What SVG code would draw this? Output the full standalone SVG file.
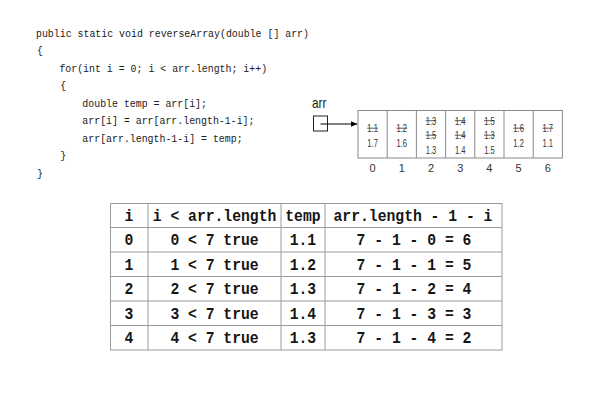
<svg xmlns="http://www.w3.org/2000/svg" width="601" height="401" viewBox="0 0 601 401">
  <style>
    .code { font-family: "Liberation Mono", "DejaVu Sans Mono", monospace; font-size: 11px; fill: #1a1a1a; }
    .cell { fill: none; stroke: #8a8a8a; stroke-width: 1; }
    .val { font-family: "Liberation Sans", Arial, sans-serif; font-size: 11px; fill: #333; text-anchor: middle; }
    .idx { font-family: "Liberation Sans", Arial, sans-serif; font-size: 11px; fill: #333; text-anchor: middle; }
    .strike { stroke: #333; stroke-width: 0.8; }
    .grid { stroke: #9a9a9a; stroke-width: 1; fill: none; }
    .tt { font-family: "Liberation Mono", "DejaVu Sans Mono", monospace; font-size: 16px; font-weight: bold; fill: #151515; text-anchor: middle; }
  </style>
  <defs>
    <marker id="head" markerWidth="7" markerHeight="6" refX="6.5" refY="3" orient="auto" markerUnits="userSpaceOnUse">
      <path d="M0,0 L7,3 L0,6 Z" fill="#000"/>
    </marker>
  </defs>
  <rect width="601" height="401" fill="#fff"/>

  <!-- method source -->
  <g id="code" transform="translate(36,0) scale(0.9,1)">
    <text class="code" x="0" y="37">public static void reverseArray(double [] arr)</text>
    <text class="code" x="1" y="54.5">{</text>
    <text class="code" x="26" y="72">for(int i = 0; i &lt; arr.length; i++)</text>
    <text class="code" x="27" y="89.5">{</text>
    <text class="code" x="51.5" y="107">double temp = arr[i];</text>
    <text class="code" x="51.5" y="124.5">arr[i] = arr[arr.length-1-i];</text>
    <text class="code" x="51.5" y="142">arr[arr.length-1-i] = temp;</text>
    <text class="code" x="27" y="159.5">}</text>
    <text class="code" x="1" y="177">}</text>
  </g>

  <!-- reference variable -->
  <g id="arr-ref">
    <text x="312" y="107.5" font-family="'Liberation Sans', Arial, sans-serif" font-size="15" fill="#222" textLength="14.5" lengthAdjust="spacingAndGlyphs">arr</text>
    <rect x="313.5" y="116" width="14" height="15" fill="none" stroke="#222" stroke-width="1"/>
  </g>

  <!-- connectors -->
  <g id="connectors">
    <line x1="320.5" y1="124" x2="357" y2="124" stroke="#000" stroke-width="1.2" marker-end="url(#head)"/>
  </g>

  <!-- array cells -->
  <g id="array">
    <rect class="cell" x="358" y="110.5" width="204.4" height="47.5"/>
    <line class="cell" x1="387.2" y1="110.5" x2="387.2" y2="158"/>
    <line class="cell" x1="416.4" y1="110.5" x2="416.4" y2="158"/>
    <line class="cell" x1="445.6" y1="110.5" x2="445.6" y2="158"/>
    <line class="cell" x1="474.8" y1="110.5" x2="474.8" y2="158"/>
    <line class="cell" x1="504" y1="110.5" x2="504" y2="158"/>
    <line class="cell" x1="533.2" y1="110.5" x2="533.2" y2="158"/>

    <!-- cell 0 -->
    <text class="val" x="372.6" y="132" textLength="10.5" lengthAdjust="spacingAndGlyphs">1.1</text>
    <line class="strike" x1="367.2" y1="128.2" x2="378" y2="128.2"/>
    <text class="val" x="372.6" y="147" textLength="10.5" lengthAdjust="spacingAndGlyphs">1.7</text>
    <!-- cell 1 -->
    <text class="val" x="401.8" y="132" textLength="10.5" lengthAdjust="spacingAndGlyphs">1.2</text>
    <line class="strike" x1="396.4" y1="128.2" x2="407.2" y2="128.2"/>
    <text class="val" x="401.8" y="147" textLength="10.5" lengthAdjust="spacingAndGlyphs">1.6</text>
    <!-- cell 2 -->
    <text class="val" x="431" y="124.5" textLength="10.5" lengthAdjust="spacingAndGlyphs">1.3</text>
    <line class="strike" x1="425.6" y1="120.7" x2="436.4" y2="120.7"/>
    <text class="val" x="431" y="139" textLength="10.5" lengthAdjust="spacingAndGlyphs">1.5</text>
    <line class="strike" x1="425.6" y1="135.2" x2="436.4" y2="135.2"/>
    <text class="val" x="431" y="154" textLength="10.5" lengthAdjust="spacingAndGlyphs">1.3</text>
    <!-- cell 3 -->
    <text class="val" x="460.2" y="124.5" textLength="10.5" lengthAdjust="spacingAndGlyphs">1.4</text>
    <line class="strike" x1="454.8" y1="120.7" x2="465.6" y2="120.7"/>
    <text class="val" x="460.2" y="139" textLength="10.5" lengthAdjust="spacingAndGlyphs">1.4</text>
    <line class="strike" x1="454.8" y1="135.2" x2="465.6" y2="135.2"/>
    <text class="val" x="460.2" y="154" textLength="10.5" lengthAdjust="spacingAndGlyphs">1.4</text>
    <!-- cell 4 -->
    <text class="val" x="489.4" y="124.5" textLength="10.5" lengthAdjust="spacingAndGlyphs">1.5</text>
    <line class="strike" x1="484" y1="120.7" x2="494.8" y2="120.7"/>
    <text class="val" x="489.4" y="139" textLength="10.5" lengthAdjust="spacingAndGlyphs">1.3</text>
    <line class="strike" x1="484" y1="135.2" x2="494.8" y2="135.2"/>
    <text class="val" x="489.4" y="154" textLength="10.5" lengthAdjust="spacingAndGlyphs">1.5</text>
    <!-- cell 5 -->
    <text class="val" x="518.6" y="132" textLength="10.5" lengthAdjust="spacingAndGlyphs">1.6</text>
    <line class="strike" x1="513.2" y1="128.2" x2="524" y2="128.2"/>
    <text class="val" x="518.6" y="147" textLength="10.5" lengthAdjust="spacingAndGlyphs">1.2</text>
    <!-- cell 6 -->
    <text class="val" x="547.8" y="132" textLength="10.5" lengthAdjust="spacingAndGlyphs">1.7</text>
    <line class="strike" x1="542.4" y1="128.2" x2="553.2" y2="128.2"/>
    <text class="val" x="547.8" y="147" textLength="10.5" lengthAdjust="spacingAndGlyphs">1.1</text>

    <!-- indices -->
    <text class="idx" x="372.6" y="171.5">0</text>
    <text class="idx" x="401.8" y="171.5">1</text>
    <text class="idx" x="431" y="171.5">2</text>
    <text class="idx" x="460.2" y="171.5">3</text>
    <text class="idx" x="489.4" y="171.5">4</text>
    <text class="idx" x="518.6" y="171.5">5</text>
    <text class="idx" x="547.8" y="171.5">6</text>
  </g>

  <!-- trace table -->
  <g id="trace-table">
    <rect class="grid" x="110.5" y="203.5" width="391.5" height="146.5"/>
    <line class="grid" x1="148" y1="203.5" x2="148" y2="350"/>
    <line class="grid" x1="281" y1="203.5" x2="281" y2="350"/>
    <line class="grid" x1="325" y1="203.5" x2="325" y2="350"/>
    <line class="grid" x1="110.5" y1="227.5" x2="502" y2="227.5"/>
    <line class="grid" x1="110.5" y1="252" x2="502" y2="252"/>
    <line class="grid" x1="110.5" y1="276.5" x2="502" y2="276.5"/>
    <line class="grid" x1="110.5" y1="301" x2="502" y2="301"/>
    <line class="grid" x1="110.5" y1="325.5" x2="502" y2="325.5"/>

    <!-- cell text, narrowed horizontally -->
    <g transform="scale(0.92,1)">
      <text class="tt" x="140.2" y="221.5">i</text>
      <text class="tt" x="233.2" y="221.5">i &lt; arr.length</text>
      <text class="tt" x="329.3" y="221.5">temp</text>
      <text class="tt" x="448.9" y="221.5">arr.length - 1 - i</text>

      <text class="tt" x="140.2" y="245.5">0</text>
      <text class="tt" x="233.2" y="245.5">0 &lt; 7 true</text>
      <text class="tt" x="329.3" y="245.5">1.1</text>
      <text class="tt" x="450" y="245.5">7 - 1 - 0 = 6</text>

      <text class="tt" x="140.2" y="270">1</text>
      <text class="tt" x="233.2" y="270">1 &lt; 7 true</text>
      <text class="tt" x="329.3" y="270">1.2</text>
      <text class="tt" x="450" y="270">7 - 1 - 1 = 5</text>

      <text class="tt" x="140.2" y="294.5">2</text>
      <text class="tt" x="233.2" y="294.5">2 &lt; 7 true</text>
      <text class="tt" x="329.3" y="294.5">1.3</text>
      <text class="tt" x="450" y="294.5">7 - 1 - 2 = 4</text>

      <text class="tt" x="140.2" y="319">3</text>
      <text class="tt" x="233.2" y="319">3 &lt; 7 true</text>
      <text class="tt" x="329.3" y="319">1.4</text>
      <text class="tt" x="450" y="319">7 - 1 - 3 = 3</text>

      <text class="tt" x="140.2" y="343.5">4</text>
      <text class="tt" x="233.2" y="343.5">4 &lt; 7 true</text>
      <text class="tt" x="329.3" y="343.5">1.3</text>
      <text class="tt" x="450" y="343.5">7 - 1 - 4 = 2</text>
    </g>
  </g>
</svg>
